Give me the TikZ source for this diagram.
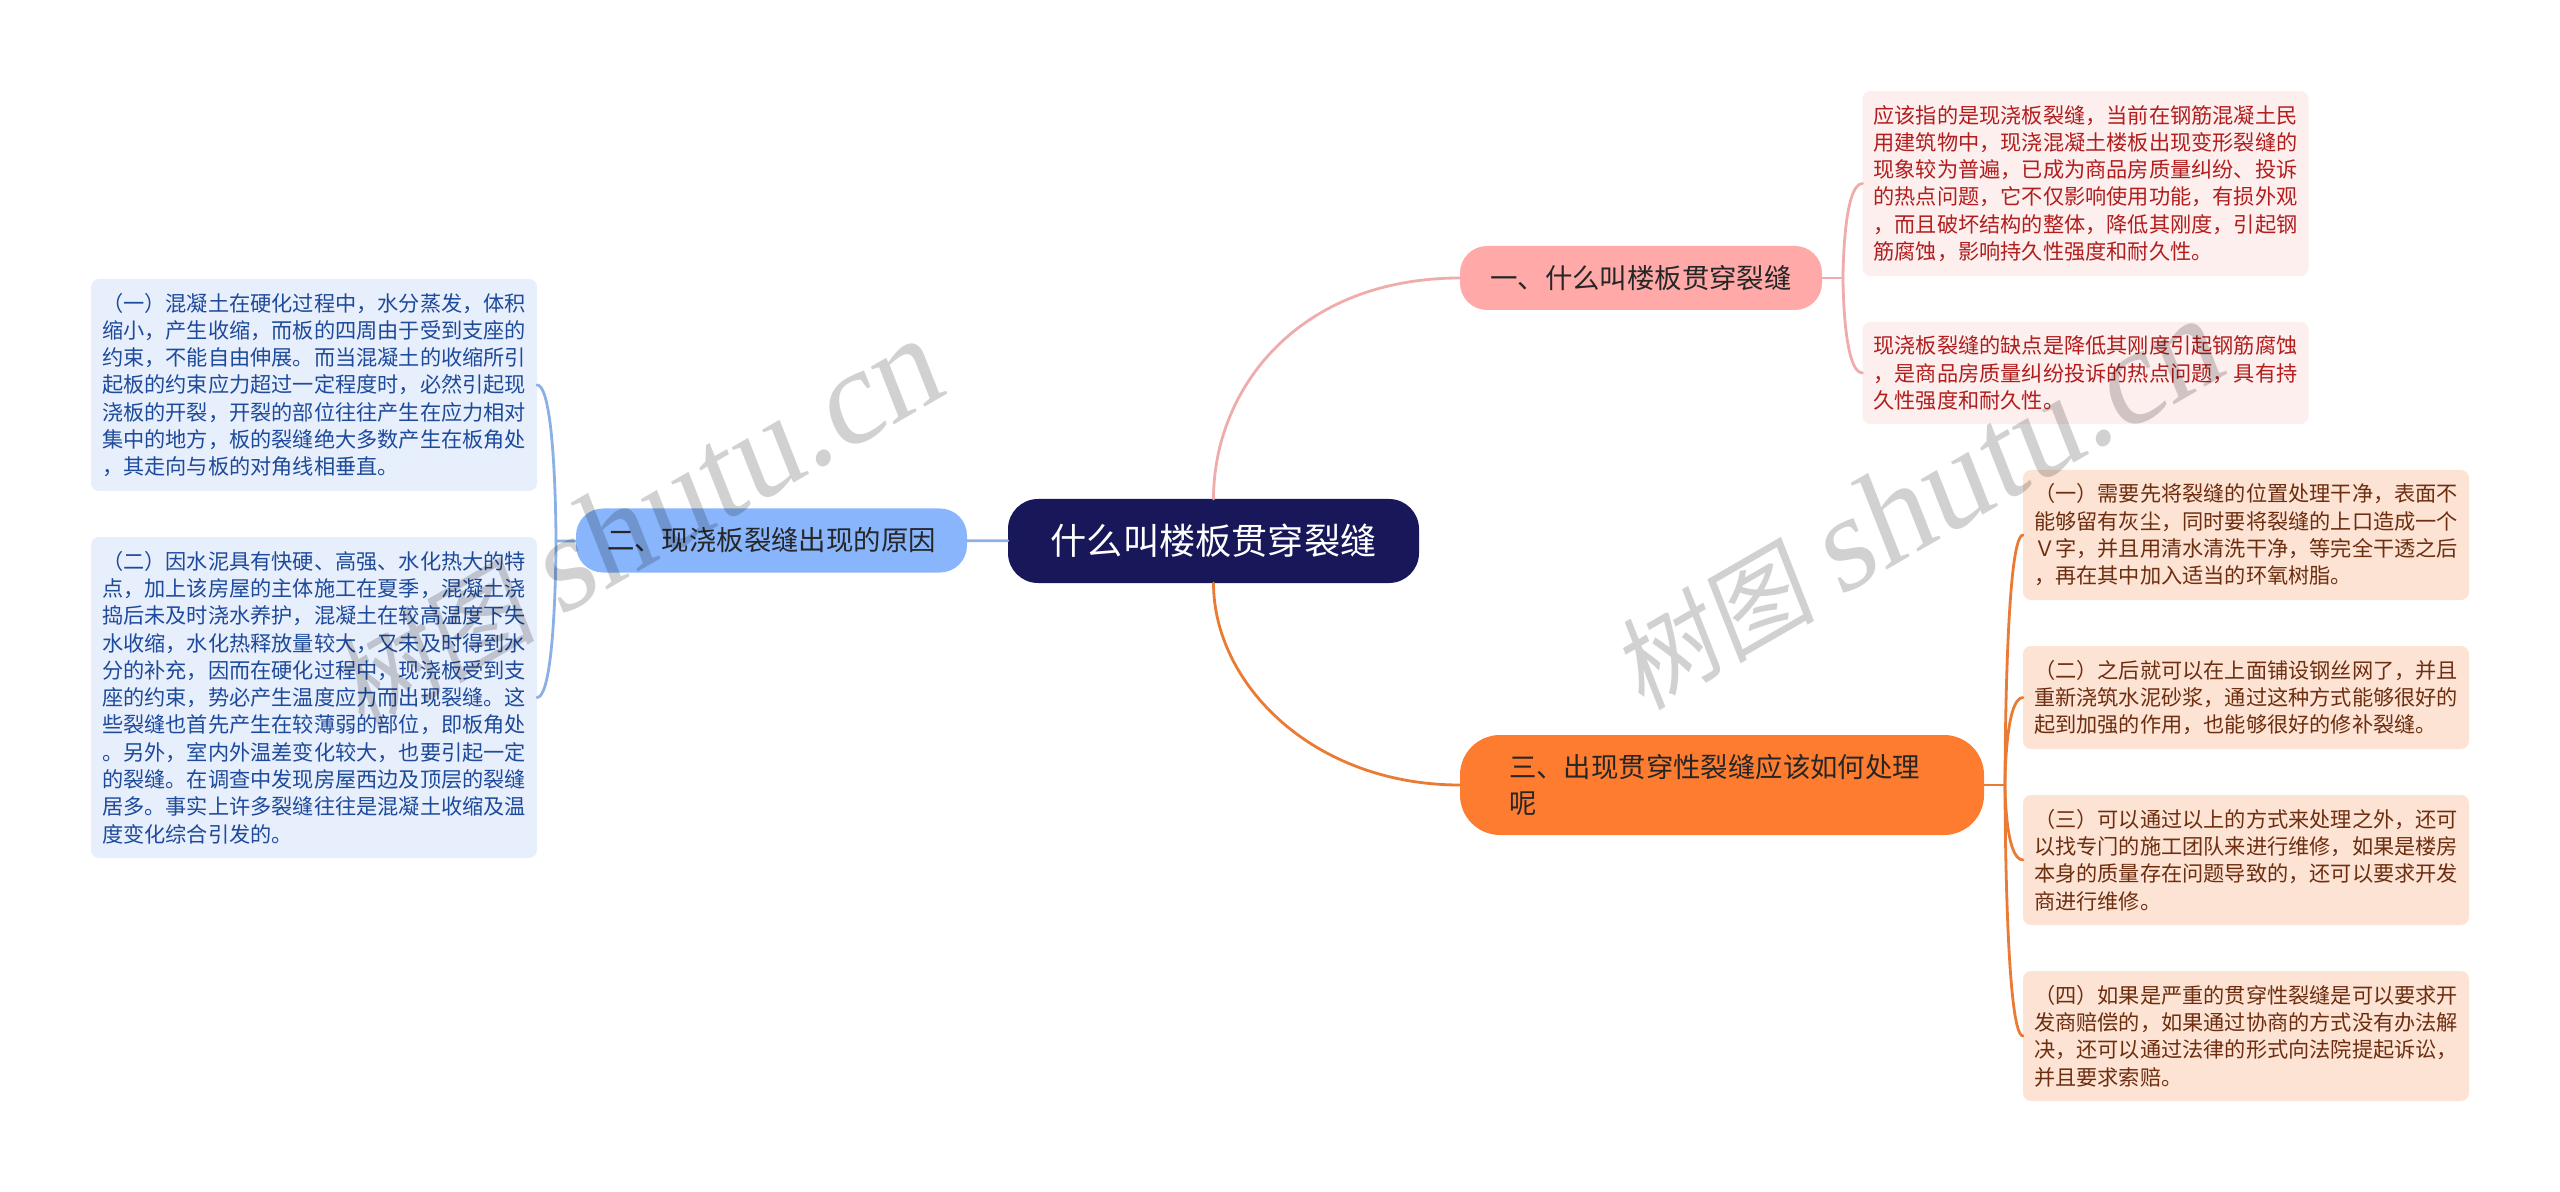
\documentclass[tikz,border=0pt]{standalone}
\usepackage{fontspec}
\setmainfont{Noto Sans CJK SC}
\newfontfamily\marklatin[FakeSlant=0.15]{Liberation Serif}
\newfontfamily\markcjk[FakeSlant=0.15]{Noto Sans CJK SC}
\definecolor{rootblue}{HTML}{17175A}
\definecolor{pinkline}{HTML}{F0ABAB}
\definecolor{pinknode}{HTML}{FFA9A9}
\definecolor{pinkleaf}{HTML}{FDEFEE}
\definecolor{pinktext}{HTML}{B11E1E}
\definecolor{blueline}{HTML}{8BB0E6}
\definecolor{bluenode}{HTML}{88B5FC}
\definecolor{blueleaf}{HTML}{E8EFFC}
\definecolor{bluetext}{HTML}{1D4A9B}
\definecolor{orangeline}{HTML}{E97B35}
\definecolor{orangenode}{HTML}{FD7C30}
\definecolor{orangeleaf}{HTML}{FDE3D4}
\definecolor{orangetext}{HTML}{6D2E10}
\tikzstyle{leaf} = [rounded corners=4pt, inner xsep=0pt, inner ysep=0pt, outer sep=0pt, minimum width=223pt, text width=212pt, align=left, font=\fontsize{10.6}{13.65}\selectfont]
\tikzstyle{branch} = [rounded corners=13.5pt, inner sep=0pt, outer sep=0pt, minimum height=32pt, align=center, text=black!85, font=\fontsize{13.7}{18}\selectfont]
\tikzstyle{link} = [line width=1.4pt, line cap=round]
\tikzstyle{stamp} = [rotate=30, anchor=base west, inner sep=0pt, text=black, text opacity=.18]

\begin{document}
\begin{tikzpicture}[x=.5pt, y=-.5pt]
	\useasboundingbox (0,0) rectangle (2560,1192);
	\node[rounded corners=15pt, inner sep=0pt, outer sep=0pt, fill=rootblue, text=white, minimum width=205.5pt, minimum height=42pt, font=\fontsize{18.1}{22}\selectfont] (root) at (1213.5,541) {什么叫楼板贯穿裂缝};
	\node[branch, fill=pinknode, minimum width=181pt] (one) at (1641,278) {一、什么叫楼板贯穿裂缝};
	\node[branch, fill=bluenode, minimum width=195.5pt] (two) at (771.5,540.5) {二、现浇板裂缝出现的原因};
	\node[branch, rounded corners=20pt, fill=orangenode, text width=213pt, minimum width=262pt, minimum height=50pt, align=left] (three) at (1722,785) {三、出现贯穿性裂缝应该如何处理\\呢};
	\coordinate (hubone) at (1843,278);
	\coordinate (hubtwo) at (556,541);
	\coordinate (hubthree) at (2005,785);
	\foreach \n/\y/\h/\body in {
		oneA/183.5/185/{应该指的是现浇板裂缝，当前在钢筋混凝土民\\用建筑物中，现浇混凝土楼板出现变形裂缝的\\现象较为普遍，已成为商品房质量纠纷、投诉\\的热点问题，它不仅影响使用功能，有损外观\\，而且破坏结构的整体，降低其刚度，引起钢\\筋腐蚀，影响持久性强度和耐久性。},
		oneB/373/102/{现浇板裂缝的缺点是降低其刚度引起钢筋腐蚀\\，是商品房质量纠纷投诉的热点问题，具有持\\久性强度和耐久性。}}
		\node[leaf, fill=pinkleaf, text=pinktext, minimum height=\h*.5pt] (\n) at (2085.5,\y) {\body};
	\foreach \n/\y/\h/\body in {
		twoA/385/212/{（一）混凝土在硬化过程中，水分蒸发，体积\\缩小，产生收缩，而板的四周由于受到支座的\\约束，不能自由伸展。而当混凝土的收缩所引\\起板的约束应力超过一定程度时，必然引起现\\浇板的开裂，开裂的部位往往产生在应力相对\\集中的地方，板的裂缝绝大多数产生在板角处\\，其走向与板的对角线相垂直。},
		twoB/697.5/321/{（二）因水泥具有快硬、高强、水化热大的特\\点，加上该房屋的主体施工在夏季，混凝土浇\\捣后未及时浇水养护，混凝土在较高温度下失\\水收缩，水化热释放量较大，又未及时得到水\\分的补充，因而在硬化过程中，现浇板受到支\\座的约束，势必产生温度应力而出现裂缝。这\\些裂缝也首先产生在较薄弱的部位，即板角处\\。另外，室内外温差变化较大，也要引起一定\\的裂缝。在调查中发现房屋西边及顶层的裂缝\\居多。事实上许多裂缝往往是混凝土收缩及温\\度变化综合引发的。}}
		\node[leaf, fill=blueleaf, text=bluetext, minimum height=\h*.5pt] (\n) at (314,\y) {\body};
	\foreach \n/\y/\h/\body in {
		threeA/535/130/{（一）需要先将裂缝的位置处理干净，表面不\\能够留有灰尘，同时要将裂缝的上口造成一个\\Ｖ字，并且用清水清洗干净，等完全干透之后\\，再在其中加入适当的环氧树脂。},
		threeB/697.5/103/{（二）之后就可以在上面铺设钢丝网了，并且\\重新浇筑水泥砂浆，通过这种方式能够很好的\\起到加强的作用，也能够很好的修补裂缝。},
		threeC/860/130/{（三）可以通过以上的方式来处理之外，还可\\以找专门的施工团队来进行维修，如果是楼房\\本身的质量存在问题导致的，还可以要求开发\\商进行维修。},
		threeD/1036/130/{（四）如果是严重的贯穿性裂缝是可以要求开\\发商赔偿的，如果通过协商的方式没有办法解\\决，还可以通过法律的形式向法院提起诉讼，\\并且要求索赔。}}
		\node[leaf, fill=orangeleaf, text=orangetext, minimum height=\h*.5pt] (\n) at (2246,\y) {\body};

	\draw[link, pinkline] (root.north) .. controls +(0,-111) and +(-161,0) .. (one.west);
	\draw[link, orangeline] (root.south) .. controls +(0,101) and +(-147,0) .. (three.west);
	\draw[link, blueline] (two) -- (root);
	\draw[link, pinkline] (one) -- (hubone);
	\draw[link, blueline] (two) -- (hubtwo);
	\draw[link, orangeline] (three) -- (hubthree);
	\foreach \i in {oneA,oneB}
	\draw[link, pinkline] (hubone) .. controls (hubone) and (hubone |- \i.west) .. (\i.west);
	\foreach \i in {twoA,twoB}
	\draw[link, blueline] (hubtwo) .. controls (hubtwo) and (hubtwo |- \i.east) .. (\i.east);
	\foreach \i in {threeA,threeB,threeC,threeD}
	\draw[link, orangeline] (hubthree) .. controls (hubthree) and (hubthree |- \i.west) .. (\i.west);

	\foreach \n/\x/\y in {markleft/362/732, markright/1642/712}
	\node[stamp] (\n) at (\x,\y) {\fontsize{51}{51}\markcjk 树图\hspace{12pt}\fontsize{67}{67}\marklatin shutu.cn};
\end{tikzpicture}
\end{document}
